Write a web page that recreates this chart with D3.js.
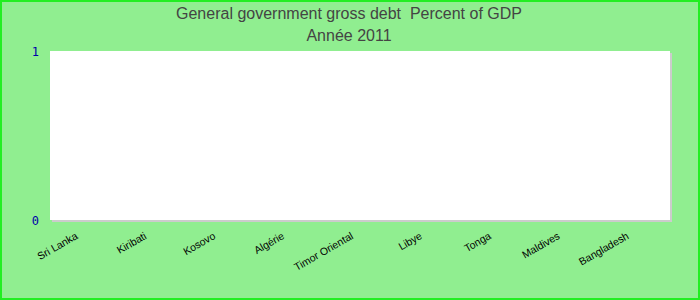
<!DOCTYPE html>
<html>
<head>
<meta charset="utf-8">
<script src="https://cdn.jsdelivr.net/npm/d3@7"></script>
<style>
  html, body { margin: 0; padding: 0; background: #90ee90; }
  svg { display: block; }
  .title { white-space: pre; }
</style>
</head>
<body>
<svg id="chart" width="700" height="300"></svg>
<script>
// Countries on the category axis
const categories = ["Sri Lanka", "Kiribati", "Kosovo", "Algérie", "Timor Oriental", "Libye", "Tonga", "Maldives", "Bangladesh"];
// Debt as percent of GDP for 2011 (no figures reported)
const values = [null, null, null, null, null, null, null, null, null];
// Value axis ticks
const yTicks = [0, 1];

const titleLines = ["General government gross debt  Percent of GDP", "Année 2011"];

const W = 700, H = 300;
const plot = { left: 50, top: 51, right: 670, bottom: 220 };

const svg = d3.select("#chart");

// Background and frame
svg.append("rect")
  .attr("x", 1).attr("y", 1).attr("width", W - 2).attr("height", H - 2)
  .attr("fill", "#90ee90").attr("stroke", "#22ee22").attr("stroke-width", 2);

// Titles
svg.selectAll("text.title")
  .data(titleLines)
  .join("text")
  .attr("class", "title")
  .attr("x", 349)
  .attr("y", (d, i) => 19 + i * 22)
  .attr("text-anchor", "middle")
  .attr("font-family", "Liberation Sans, Arial, sans-serif")
  .attr("font-size", 16)
  .attr("fill", "#444444")
  .text(d => d);

// Plot area shadow and panel
svg.append("rect")
  .attr("x", plot.left + 2).attr("y", plot.top + 2)
  .attr("width", plot.right - plot.left).attr("height", plot.bottom - plot.top)
  .attr("fill", "#cccccc");
svg.append("rect")
  .attr("x", plot.left).attr("y", plot.top)
  .attr("width", plot.right - plot.left).attr("height", plot.bottom - plot.top)
  .attr("fill", "#ffffff");

const x = d3.scaleBand().domain(categories).range([plot.left, plot.right]);
const y = d3.scaleLinear().domain([0, 1]).range([plot.bottom, plot.top]);

// Bars (only where a value exists)
svg.append("g")
  .selectAll("rect")
  .data(categories.map((c, i) => ({ c, v: values[i] })).filter(d => d.v != null))
  .join("rect")
  .attr("x", d => x(d.c) + x.bandwidth() * 0.15)
  .attr("width", x.bandwidth() * 0.7)
  .attr("y", d => y(d.v))
  .attr("height", d => y(0) - y(d.v))
  .attr("fill", "#4682b4");

// Y axis labels
const yAxis = d3.axisLeft(y).tickValues(yTicks).tickFormat(d3.format("d")).tickSize(0).tickPadding(0);
const gy = svg.append("g").attr("transform", `translate(${plot.left - 11},0)`).call(yAxis);
gy.select(".domain").remove();
gy.selectAll("text")
  .attr("font-family", "DejaVu Sans Mono, monospace")
  .attr("font-size", 12)
  .attr("fill", "#0000aa")
  .attr("dy", "0.35em");

// X axis labels, rotated
const xAxis = d3.axisBottom(x).tickSize(0).tickPadding(0);
const gx = svg.append("g").attr("transform", `translate(0,${plot.bottom})`).call(xAxis);
gx.select(".domain").remove();
gx.selectAll(".tick text")
  .attr("font-family", "Liberation Sans, Arial, sans-serif")
  .attr("font-size", 10.5)
  .attr("fill", "#000000")
  .attr("text-anchor", "end")
  .attr("dy", null)
  .attr("y", 0)
  .attr("transform", "translate(-6,18) rotate(-30)");
</script>
</body>
</html>
